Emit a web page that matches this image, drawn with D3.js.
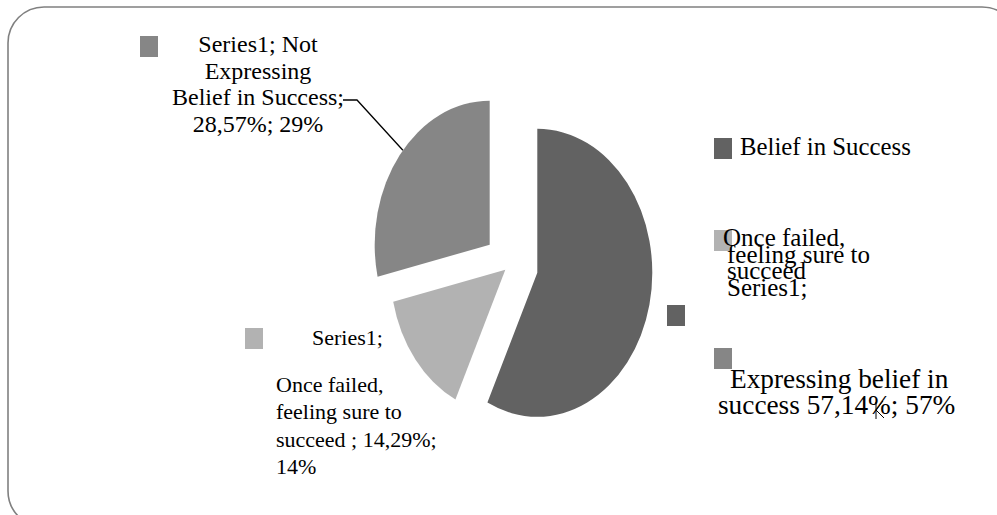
<!DOCTYPE html>
<html>
<head>
<meta charset="utf-8">
<script src="https://cdn.jsdelivr.net/npm/d3@7"></script>
<style>
  body { margin: 0; background: #fff; }
  text { font-family: "Liberation Serif", "Times New Roman", serif; fill: #000; }
</style>
</head>
<body>
<div id="viz"></div>
<script>
// chart data
const CATEGORIES = ["Belief in Success", "Once failed, feeling sure to succeed", "Not Expressing Belief in Success"];
const VALUES = [57.14, 14.29, 28.57];
const COLORS = ["#626262", "#b2b2b2", "#868686"];
const EXPLODE = [28, 6, 26];

// label texts as they appear in the picture
const LABEL_TOP = ["Series1; Not", "Expressing", "Belief in Success;", "28,57%; 29%"];
const LABEL_BOTTOM_HEAD = "Series1;";
const LABEL_BOTTOM = ["Once failed,", "feeling sure to", "succeed ; 14,29%;", "14%"];
const LEGEND_ONCE = ["Once failed,", "feeling sure to", "succeed", "Series1;"];
const LABEL_RIGHT = ["Expressing belief in", "success 57,14%; 57%"];

const F_WIDTH = 997;
const F_HEIGHT = 515;
const CENTER = {x: 510, y: 265};
const RADIUS = 115;
const Y_STRETCH = 1.252;

const FRAME = d3.select("#viz")
  .append("svg")
    .attr("width", F_WIDTH)
    .attr("height", F_HEIGHT);

// rounded border
FRAME.append("rect")
  .attr("x", 8).attr("y", 7)
  .attr("width", 1010).attr("height", 520)
  .attr("rx", 36).attr("ry", 36)
  .style("fill", "none")
  .style("stroke", "#808080")
  .style("stroke-width", 1.6);

// pie
const pie = d3.pie().sort(null).value(d => d);
const arcs = pie(VALUES);
const arc = d3.arc().innerRadius(0).outerRadius(RADIUS);

const PIE_G = FRAME.append("g")
  .attr("transform", "translate(" + CENTER.x + "," + CENTER.y + ") scale(1," + Y_STRETCH + ")");

PIE_G.selectAll("path")
  .data(arcs)
  .enter()
  .append("path")
    .attr("d", arc)
    .attr("transform", (d, i) => {
      const mid = (d.startAngle + d.endAngle) / 2;
      return "translate(" + (EXPLODE[i] * Math.sin(mid)) + "," + (-EXPLODE[i] * Math.cos(mid)) + ")";
    })
    .style("fill", (d, i) => COLORS[i]);

// leader line for grey slice
const g = arcs[2];
const gMid = (g.startAngle + g.endAngle) / 2;
const gAng = 311 * Math.PI / 180;
const lx = CENTER.x + EXPLODE[2] * Math.sin(gMid) + RADIUS * Math.sin(gAng);
const ly = CENTER.y + (-EXPLODE[2] * Math.cos(gMid) - RADIUS * Math.cos(gAng)) * Y_STRETCH;
FRAME.append("path")
  .attr("d", "M343,100 L357,100 L" + lx + "," + ly)
  .style("fill", "none")
  .style("stroke", "#000")
  .style("stroke-width", 1.3);

// legend squares
function square(x, y, color) {
  FRAME.append("rect")
    .attr("x", x).attr("y", y)
    .attr("width", 18).attr("height", 21)
    .style("fill", color);
}
square(140, 36, COLORS[2]);
square(714, 138, COLORS[0]);
square(714, 230, COLORS[1]);
square(667, 305, COLORS[0]);
square(714, 348, COLORS[2]);
square(245, 328, COLORS[1]);

// top-left label
FRAME.append("g").selectAll("text")
  .data(LABEL_TOP)
  .enter()
  .append("text")
    .attr("x", 258)
    .attr("y", (d, i) => 52 + i * 26.7)
    .attr("text-anchor", "middle")
    .style("font-size", "24px")
    .text(d => d);

// right legend: Belief in Success
FRAME.append("text")
  .attr("x", 740).attr("y", 155)
  .style("font-size", "24.8px")
  .text(CATEGORIES[0]);

// right legend: once failed block (tight lines, as in the picture)
FRAME.append("g").selectAll("text")
  .data(LEGEND_ONCE)
  .enter()
  .append("text")
    .attr("x", (d, i) => i === 0 ? 723 : 727)
    .attr("y", (d, i) => 246 + i * 16.5)
    .style("font-size", "25px")
    .text(d => d);

// right label: expressing belief
FRAME.append("g").selectAll("text")
  .data(LABEL_RIGHT)
  .enter()
  .append("text")
    .attr("x", (d, i) => i === 0 ? 730 : 718)
    .attr("y", (d, i) => 388 + i * 26)
    .style("font-size", "27.3px")
    .text(d => d);

// small leader remnant near the right label
FRAME.append("path")
  .attr("d", "M876,402 L876,419 M876,410 L883,401 M876,410 L884,418")
  .style("fill", "none")
  .style("stroke", "#000")
  .style("stroke-width", 1);

// bottom-left label
FRAME.append("text")
  .attr("x", 312).attr("y", 345)
  .style("font-size", "22px")
  .text(LABEL_BOTTOM_HEAD);

FRAME.append("g").selectAll("text")
  .data(LABEL_BOTTOM)
  .enter()
  .append("text")
    .attr("x", 276)
    .attr("y", (d, i) => 392 + i * 27.3)
    .style("font-size", "22px")
    .text(d => d);
</script>
</body>
</html>
